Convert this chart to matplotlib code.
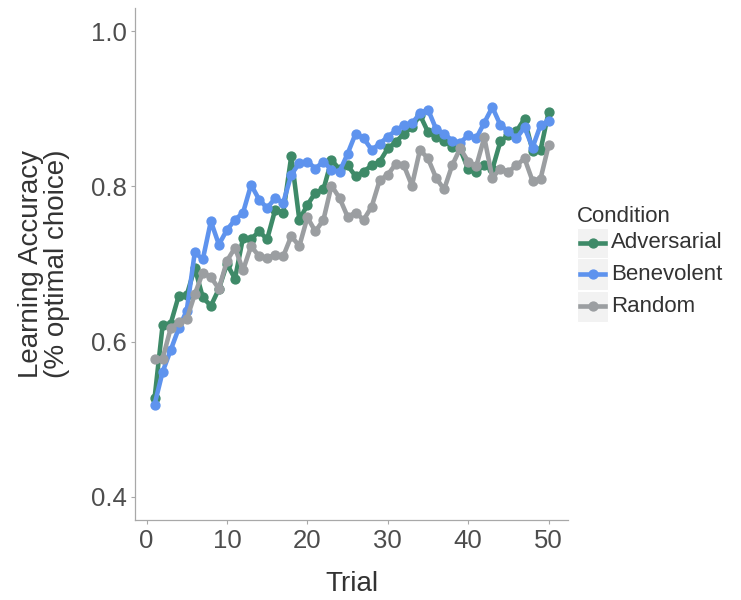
import matplotlib
matplotlib.use("Agg")
import matplotlib.pyplot as plt
import numpy as np
from matplotlib.lines import Line2D
from matplotlib.patches import Rectangle

trials = np.arange(1, 51)

adversarial = [
    0.527, 0.621, 0.623, 0.659, 0.660, 0.695, 0.657, 0.646, 0.668, 0.700,
    0.681, 0.734, 0.732, 0.742, 0.732, 0.770, 0.766, 0.839, 0.757, 0.776,
    0.792, 0.796, 0.834, 0.822, 0.827, 0.813, 0.819, 0.827, 0.832, 0.849,
    0.857, 0.868, 0.876, 0.892, 0.870, 0.864, 0.859, 0.851, 0.848, 0.822,
    0.819, 0.827, 0.822, 0.858, 0.866, 0.871, 0.887, 0.846, 0.847, 0.896,
]
benevolent = [
    0.519, 0.561, 0.589, 0.617, 0.640, 0.715, 0.706, 0.755, 0.725, 0.744,
    0.757, 0.766, 0.802, 0.783, 0.772, 0.785, 0.779, 0.815, 0.830, 0.832,
    0.823, 0.832, 0.821, 0.819, 0.842, 0.868, 0.862, 0.847, 0.855, 0.864,
    0.872, 0.879, 0.881, 0.894, 0.899, 0.874, 0.868, 0.859, 0.856, 0.866,
    0.862, 0.882, 0.902, 0.879, 0.871, 0.862, 0.876, 0.850, 0.879, 0.884,
]
random_cond = [
    0.578, 0.578, 0.617, 0.625, 0.629, 0.661, 0.689, 0.683, 0.668, 0.704,
    0.721, 0.692, 0.723, 0.710, 0.708, 0.712, 0.710, 0.736, 0.723, 0.760,
    0.742, 0.757, 0.801, 0.785, 0.761, 0.766, 0.757, 0.774, 0.808, 0.815,
    0.829, 0.827, 0.801, 0.847, 0.836, 0.811, 0.796, 0.827, 0.849, 0.832,
    0.826, 0.863, 0.811, 0.823, 0.819, 0.827, 0.836, 0.807, 0.810, 0.853,
]

conditions = ["Adversarial", "Benevolent", "Random"]
colors = ["#3E8A68", "#5E93EE", "#9B9EA1"]
x_ticks = [0, 10, 20, 30, 40, 50]
y_ticks = [0.4, 0.6, 0.8, 1.0]

plt.rcParams["font.family"] = ["Liberation Sans", "DejaVu Sans"]

fig = plt.figure(figsize=(7.41, 6.0), dpi=100)
ax = fig.add_axes([0.182, 0.133, 0.585, 0.854])

for name, values, color in zip(conditions, [adversarial, benevolent, random_cond], colors):
    ax.plot(trials, values, color=color, lw=3.3, marker="o", ms=6.4,
            solid_capstyle="round", label=name)

ax.set_xlim(-1.45, 52.45)
ax.set_ylim(0.37, 1.03)
ax.set_xticks(x_ticks)
ax.set_yticks(y_ticks)
ax.set_yticklabels([f"{v:.1f}" for v in y_ticks])

for side in ["top", "right"]:
    ax.spines[side].set_visible(False)
for side in ["left", "bottom"]:
    ax.spines[side].set_color("#A8A8A8")
    ax.spines[side].set_linewidth(0.9)

ax.tick_params(axis="both", colors="#A8A8A8", length=3, width=0.8,
               labelsize=18.5, labelcolor="#4D4D4D", pad=3)

ax.set_xlabel("Trial", fontsize=20, color="#333333", labelpad=13)
ax.set_ylabel("Learning Accuracy\n(% optimal choice)", fontsize=20,
              color="#333333", labelpad=15, linespacing=1.0)

# legend drawn by hand to get the grey key boxes
fig.text(577 / 741, 1 - 216 / 600, "Condition", fontsize=16, color="#333333",
         va="center", ha="left")
row_y = [243, 274, 306]
for name, color, yy in zip(conditions, colors, row_y):
    fy = 1 - yy / 600
    fig.add_artist(Rectangle((577 / 741, fy - 16 / 600), 31 / 741, 31.5 / 600,
                             transform=fig.transFigure, facecolor="#F2F2F2",
                             edgecolor="white", lw=0.8))
    fig.add_artist(Line2D([580 / 741, 605 / 741], [fy, fy], transform=fig.transFigure,
                          color=color, lw=3.3))
    fig.add_artist(Line2D([592.5 / 741], [fy], transform=fig.transFigure,
                          color=color, marker="o", ms=6.4))
    fig.text(611 / 741, fy, name, fontsize=16, color="#333333", va="center", ha="left")

fig.savefig("out.png", dpi=100, facecolor="white")
